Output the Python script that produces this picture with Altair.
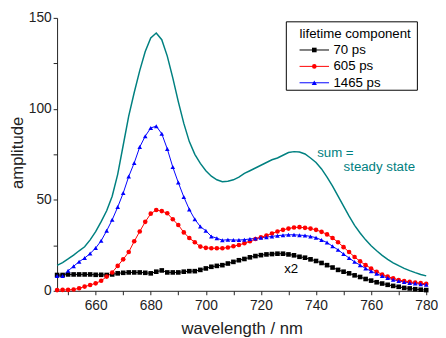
import altair as alt
import pandas as pd

# ---------------- data ----------------
wavelength = list(range(646, 781, 2))

comp_70 = [8.7, 8.7, 9.0, 9.0, 9.0, 9.0, 9.0, 8.8, 8.8, 8.7, 9.0, 9.6, 9.9, 10.1, 10.1, 10.1,
           9.9, 9.6, 10.5, 11.2, 10.1, 10.1, 10.1, 10.5, 10.8, 10.8, 11.5, 12.3, 13.2, 13.7, 14.1,
           15.0, 15.9, 16.8, 17.5, 18.4, 19.1, 19.6, 20.0, 20.2, 20.4, 20.4, 20.0, 19.5, 18.7, 18.2,
           17.3, 16.4, 15.3, 14.1, 12.8, 11.5, 10.5, 9.6, 8.5, 7.6, 6.5, 5.6, 4.7, 4.0, 3.3, 2.7,
           2.2, 1.6, 1.3, 0.9, 0.6, 0.4]

comp_605 = [0.4, 0.5, 0.5, 0.7, 1.4, 2.3, 3.2, 4.1, 5.5, 7.8, 10.1, 13.7, 17.3, 21.3, 27.2, 32.6,
            37.9, 42.4, 44.4, 43.8, 42.6, 39.3, 36.2, 32.1, 29.0, 26.7, 24.3, 23.6, 23.4, 23.4, 23.4,
            23.8, 24.5, 25.2, 26.1, 27.2, 28.5, 29.4, 30.4, 31.5, 32.6, 33.5, 34.2, 34.8, 35.0, 34.6,
            34.2, 33.5, 32.4, 31.0, 29.0, 26.7, 24.0, 21.3, 18.6, 16.2, 14.1, 12.3, 10.5, 9.0, 7.8,
            6.9, 5.9, 5.4, 4.9, 4.5, 4.2, 3.8]

comp_1465 = [8.1, 8.1, 11.0, 13.5, 16.0, 18.0, 20.5, 23.5, 27.5, 33.0, 39.0, 46.0, 53.7, 62.8, 70.3,
             79.0, 85.0, 89.5, 90.5, 86.3, 78.0, 68.0, 59.5, 51.6, 44.7, 39.3, 35.3, 33.0, 29.9, 28.9,
             27.8, 28.1, 27.9, 27.9, 28.1, 28.5, 28.8, 29.2, 29.5, 29.9, 30.3, 30.6, 30.8, 30.8, 30.6,
             30.4, 29.9, 29.2, 27.9, 26.5, 24.5, 22.5, 20.2, 18.0, 15.9, 14.1, 12.3, 10.8, 9.4, 8.1,
             7.0, 6.1, 5.4, 4.9, 4.3, 4.0, 3.6, 3.3]

steady_state = [14.0, 15.5, 17.5, 19.6, 22.0, 24.2, 28.0, 32.5, 38.0, 44.0, 52.0, 64.0, 80.0, 96.0,
                109.0, 121.0, 131.5, 139.0, 141.7, 138.0, 129.0, 117.0, 104.0, 92.0, 82.0, 75.0,
                70.0, 66.0, 63.0, 61.0, 60.0, 60.2, 61.0, 62.5, 64.5, 66.0, 67.5, 69.0, 70.5, 72.0,
                73.0, 74.5, 76.0, 76.5, 76.3, 75.2, 73.0, 70.5, 67.0, 62.5, 57.5, 52.0, 46.5, 41.0,
                36.0, 31.8, 28.0, 24.8, 22.0, 19.5, 17.3, 15.4, 13.8, 12.3, 11.1, 10.0, 9.0, 8.2]

series_labels = ["70 ps", "605 ps", "1465 ps"]
series_colors = ["#000000", "#ff0000", "#0000ff"]
series_shapes = ["square", "circle", "triangle-up"]
series_sizes = [22, 22, 28]
legend_title = "lifetime component"
x_ticks = list(range(650, 781, 10))
y_ticks = list(range(0, 151, 25))

rows = []
for lab, vals in zip(series_labels, [comp_70, comp_605, comp_1465]):
    for w, v in zip(wavelength, vals):
        rows.append({"wavelength": w, "amplitude": v, "component": lab})
df = pd.DataFrame(rows)
sum_df = pd.DataFrame({"wavelength": wavelength, "amplitude": steady_state})

W, H = 376, 278
FONT = "Liberation Sans"
TEAL = "#008080"
AX = "#222222"


def build(custom_ticks):
    x_axis = dict(values=x_ticks,
                  labelExpr="(datum.value % 20 == 0) ? format(datum.value, 'd') : ''",
                  title="wavelength / nm", grid=False, labelFlush=False, labelOverlap=False,
                  titleX=W / 2, titleY=43.3, titleBaseline="alphabetic", titleAlign="center",
                  titleAngle=0, labelAngle=0, labelAlign="center", labelBaseline="top")
    y_axis = dict(values=y_ticks,
                  labelExpr="(datum.value % 50 == 0) ? format(datum.value, 'd') : ''",
                  title="amplitude", grid=False, labelFlush=False, labelOverlap=False,
                  titleX=-35, titleY=H / 2 - 2, titleBaseline="alphabetic", titleAlign="center",
                  titleAngle=270)
    if custom_ticks:
        x_axis.update(tickSize=0, labelPadding=7,
                      encode={"ticks": {"y2": {"value": {"expr": "datum.value % 20 == 0 ? -6 : -3"}}}})
        y_axis.update(tickSize=0, labelPadding=6,
                      encode={"ticks": {"x2": {"value": {"expr": "datum.value % 50 == 0 ? 6 : 3"}}}})
    else:
        x_axis.update(tickSize=4, labelPadding=4)
        y_axis.update(tickSize=4, labelPadding=2)

    xs = alt.Scale(domain=[646, 780], nice=False, zero=False)
    ys = alt.Scale(domain=[0, 150], nice=False)
    X = alt.X("wavelength:Q", scale=xs, axis=alt.Axis(**x_axis))
    Y = alt.Y("amplitude:Q", scale=ys, axis=alt.Axis(**y_axis))

    def XD(v):
        return alt.X(datum=v, type="quantitative", scale=xs, axis=alt.Axis(**x_axis))

    def YD(v):
        return alt.Y(datum=v, type="quantitative", scale=ys, axis=alt.Axis(**y_axis))

    color = alt.Color("component:N", scale=alt.Scale(domain=series_labels, range=series_colors),
                      legend=None)
    shape = alt.Shape("component:N", scale=alt.Scale(domain=series_labels, range=series_shapes),
                      legend=None)
    size = alt.Size("component:N", scale=alt.Scale(domain=series_labels, range=series_sizes),
                    legend=None)

    teal = alt.Chart(sum_df).mark_line(color=TEAL, strokeWidth=1.5).encode(x=X, y=Y)
    lines = alt.Chart(df).mark_line(strokeWidth=1).encode(x=X, y=Y, color=color)
    pts = alt.Chart(df).mark_point(filled=True, opacity=1).encode(
        x=X, y=Y, color=color, shape=shape, size=size)

    one = pd.DataFrame({"k": [0]})
    sum_txt1 = alt.Chart(one).mark_text(text="sum =", align="left", baseline="middle",
                                         fontSize=13.5, color=TEAL, font=FONT).encode(
        x=XD(740.4), y=YD(75.5))
    sum_txt2 = alt.Chart(one).mark_text(text="steady state", align="left", baseline="middle",
                                         fontSize=13.5, color=TEAL, font=FONT).encode(
        x=XD(750.0), y=YD(67.8))
    x2_txt = alt.Chart(one).mark_text(text="x2", align="center", baseline="middle",
                                       fontSize=13.5, color="#000000", font=FONT).encode(
        x=XD(731.0), y=YD(12.2))

    # legend box (drawn in pixel space of the plot)
    box = alt.Chart(one).mark_rect(fill="white", stroke="#000000", strokeWidth=1).encode(
        x=alt.value(233.5), x2=alt.value(367), y=alt.value(4), y2=alt.value(73.7))
    ltitle = alt.Chart(one).mark_text(text=legend_title, align="left", baseline="middle",
                                       fontSize=13.5, color="#000000", font=FONT).encode(
        x=alt.value(247), y=alt.value(16))
    leg = [box, ltitle]
    for i, (lab, col, shp, sz) in enumerate(zip(series_labels, series_colors, series_shapes,
                                                  series_sizes)):
        yy = 32.7 + i * 16.7
        leg.append(alt.Chart(one).mark_rule(color=col, strokeWidth=1).encode(
            x=alt.value(247), x2=alt.value(277), y=alt.value(yy)))
        leg.append(alt.Chart(one).mark_point(filled=True, opacity=1, color=col, shape=shp,
                                             size=sz).encode(x=alt.value(262), y=alt.value(yy)))
        leg.append(alt.Chart(one).mark_text(text=lab, align="left", baseline="middle",
                                            fontSize=13.5, color="#000000", font=FONT).encode(
            x=alt.value(281.5), y=alt.value(yy)))

    chart = alt.layer(teal, lines, pts, sum_txt1, sum_txt2, x2_txt, *leg).properties(
        width=W, height=H,
        autosize=alt.AutoSizeParams(type="none"),
        padding={"left": 50, "top": 7, "right": 12, "bottom": 45},
    ).configure_view(stroke=None).configure_axis(
        domainColor=AX, tickColor=AX, labelColor=AX, titleColor=AX,
        labelFont=FONT, titleFont=FONT, labelFontSize=14, titleFontSize=17,
        titleFontWeight="normal", domainWidth=1, tickWidth=1,
    ).configure_text(font=FONT)
    return chart


try:
    chart = build(True)
    chart.to_dict()
except Exception:
    chart = build(False)

chart.save("out.html", embed_options={"renderer": "svg", "actions": False})
